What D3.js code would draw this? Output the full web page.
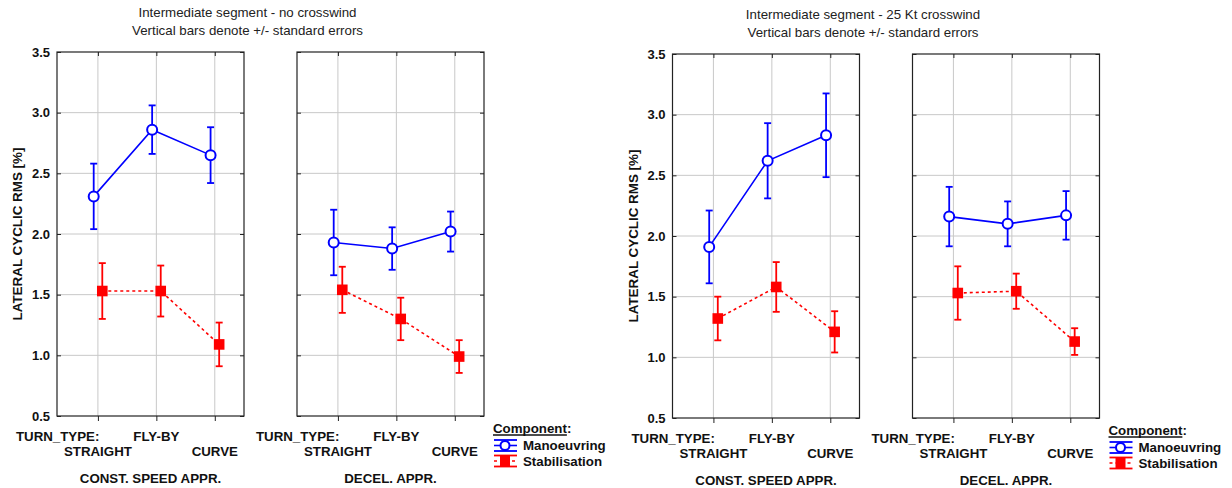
<!DOCTYPE html>
<html>
<head>
<meta charset="utf-8">
<script src="https://cdn.jsdelivr.net/npm/d3@7"></script>
<style>
  html, body { margin: 0; padding: 0; background: #fff; }
  svg { display: block; font-family: "Liberation Sans", Arial, sans-serif; }
</style>
</head>
<body>
<svg id="chart" width="1232" height="488"></svg>
<script>
// ---------- data ----------
const turnTypes = ["STRAIGHT", "FLY-BY", "CURVE"];
const approaches = ["CONST. SPEED APPR.", "DECEL. APPR."];
const yTickValues = [0.5, 1.0, 1.5, 2.0, 2.5, 3.0, 3.5];
const components = ["Manoeuvring", "Stabilisation"];
const factorLabel = "TURN_TYPE:";
const yAxisTitle = "LATERAL CYCLIC RMS [%]";
const legendTitle = "Component";

const titlesNoWind = ["Intermediate segment - no crosswind", "Vertical bars denote +/- standard errors"];
const titlesWind = ["Intermediate segment - 25 Kt crosswind", "Vertical bars denote +/- standard errors"];

// values: first 3 = CONST. SPEED APPR., last 3 = DECEL. APPR. (STRAIGHT, FLY-BY, CURVE)
const manoeuvringNoWind   = [2.31, 2.86, 2.65, 1.93, 1.88, 2.02];
const manoeuvringNoWindSE = [0.27, 0.20, 0.23, 0.27, 0.175, 0.165];
const stabilisationNoWind   = [1.53, 1.53, 1.09, 1.54, 1.30, 0.99];
const stabilisationNoWindSE = [0.23, 0.21, 0.18, 0.19, 0.175, 0.135];

const manoeuvringWind   = [1.91, 2.62, 2.83, 2.16, 2.10, 2.17];
const manoeuvringWindSE = [0.30, 0.31, 0.345, 0.245, 0.185, 0.20];
const stabilisationWind   = [1.32, 1.58, 1.21, 1.53, 1.545, 1.13];
const stabilisationWindSE = [0.18, 0.205, 0.17, 0.22, 0.145, 0.11];

// ---------- layout ----------
const BLUE = "#0000ff", RED = "#ff0000", GRID = "#c8c8c8";
const panelW = 187, panelH = 364, panelGap = 53;
const FS = "13.3px";

const svg = d3.select("#chart");

function drawChart(ox, oy, titles, manMean, manSE, stabMean, stabSE) {
  const g = svg.append("g").attr("transform", `translate(${ox},${oy})`);
  const y = d3.scaleLinear().domain([0.5, 3.5]).range([panelH, 0]);
  const x = d3.scaleLinear().domain([0.3, 3.5]).range([0, panelW]);

  // titles
  titles.forEach((t, i) => {
    g.append("text").attr("x", 190.5).attr("y", -35 + i * 18)
      .attr("text-anchor", "middle").attr("font-size", FS).attr("fill", "#222").text(t);
  });

  // y-axis title
  g.append("text")
    .attr("transform", `translate(-35,${panelH / 2}) rotate(-90)`)
    .attr("text-anchor", "middle").attr("font-size", "13.4px").attr("font-weight", "bold")
    .attr("fill", "#111").text(yAxisTitle);

  approaches.forEach((ap, p) => {
    const pg = g.append("g").attr("transform", `translate(${p * (panelW + panelGap)},0)`);

    // grid
    pg.append("g").selectAll("line.hg").data(yTickValues.slice(1, -1)).join("line")
      .attr("x1", 0).attr("x2", panelW).attr("y1", d => y(d)).attr("y2", d => y(d))
      .attr("stroke", GRID).attr("stroke-width", 1);
    pg.append("g").selectAll("line.vg").data([1, 2, 3]).join("line")
      .attr("x1", d => x(d)).attr("x2", d => x(d)).attr("y1", 0).attr("y2", panelH)
      .attr("stroke", GRID).attr("stroke-width", 1);

    // axes (ticks)
    const left = d3.axisLeft(y).tickValues(yTickValues).tickSizeInner(-4).tickSizeOuter(0)
      .tickPadding(7).tickFormat(p === 0 ? d3.format(".1f") : () => "");
    const la = pg.append("g").call(left);
    la.selectAll("text").attr("font-size", "13px").attr("font-weight", "bold")
      .attr("font-family", "Liberation Sans, Arial, sans-serif").attr("fill", "#111");
    const right = d3.axisRight(y).tickValues(yTickValues).tickSizeInner(-4).tickSizeOuter(0).tickFormat(() => "");
    pg.append("g").attr("transform", `translate(${panelW},0)`).call(right);
    const top = d3.axisTop(x).tickValues([1, 2, 3]).tickSizeInner(-4).tickSizeOuter(0).tickFormat(() => "");
    pg.append("g").call(top);
    const bottom = d3.axisBottom(x).tickValues([1, 2, 3]).tickSizeInner(5).tickSizeOuter(0).tickFormat(() => "");
    pg.append("g").attr("transform", `translate(0,${panelH})`).call(bottom);
    pg.selectAll(".domain").remove();
    pg.selectAll(".tick line").attr("stroke", "#222");

    // frame
    pg.append("rect").attr("x", 0).attr("y", 0).attr("width", panelW).attr("height", panelH)
      .attr("fill", "none").attr("stroke", "#222").attr("stroke-width", 1.2);

    // x labels
    const ly = panelH + 25, ly2 = panelH + 40;
    pg.append("text").attr("x", x(1) + 1.5).attr("y", ly).attr("text-anchor", "end")
      .attr("font-size", FS).attr("font-weight", "bold").attr("fill", "#111").text(factorLabel);
    turnTypes.forEach((tt, i) => {
      pg.append("text").attr("x", x(i + 1)).attr("y", i % 2 === 1 ? ly : ly2)
        .attr("text-anchor", "middle").attr("font-size", FS).attr("font-weight", "bold")
        .attr("fill", "#111").text(tt);
    });
    pg.append("text").attr("x", panelW / 2).attr("y", panelH + 66.5).attr("text-anchor", "middle")
      .attr("font-size", FS).attr("font-weight", "bold").attr("fill", "#111").text(ap);

    // series
    const series = [
      { mean: manMean, se: manSE, color: BLUE, off: -0.072, dash: null, marker: "circle" },
      { mean: stabMean, se: stabSE, color: RED, off: 0.075, dash: "3,3", marker: "square" }
    ];
    series.forEach(s => {
      const pts = [0, 1, 2].map(i => ({ x: x(i + 1 + s.off), m: s.mean[p * 3 + i], e: s.se[p * 3 + i] }));
      pg.append("path").datum(pts)
        .attr("d", d3.line().x(d => d.x).y(d => y(d.m)))
        .attr("fill", "none").attr("stroke", s.color).attr("stroke-width", 1.6)
        .attr("stroke-dasharray", s.dash);
      const eb = pg.append("g").attr("stroke", s.color).attr("stroke-width", 1.8);
      eb.selectAll("line.v").data(pts).join("line")
        .attr("x1", d => d.x).attr("x2", d => d.x)
        .attr("y1", d => y(d.m - d.e)).attr("y2", d => y(d.m + d.e));
      eb.selectAll("line.t").data(pts).join("line")
        .attr("x1", d => d.x - 3.5).attr("x2", d => d.x + 3.5)
        .attr("y1", d => y(d.m + d.e)).attr("y2", d => y(d.m + d.e));
      eb.selectAll("line.b").data(pts).join("line")
        .attr("x1", d => d.x - 3.5).attr("x2", d => d.x + 3.5)
        .attr("y1", d => y(d.m - d.e)).attr("y2", d => y(d.m - d.e));
      if (s.marker === "circle") {
        pg.selectAll(null).data(pts).join("circle")
          .attr("cx", d => d.x).attr("cy", d => y(d.m)).attr("r", 5)
          .attr("fill", "#fff").attr("stroke", s.color).attr("stroke-width", 2);
      } else {
        pg.selectAll(null).data(pts).join("rect")
          .attr("x", d => d.x - 5.3).attr("y", d => y(d.m) - 5.3)
          .attr("width", 10.6).attr("height", 10.6).attr("fill", s.color);
      }
    });
  });

  // legend
  const lx = 2 * panelW + panelGap + 9;
  const lg = g.append("g").attr("transform", `translate(${lx},${panelH})`);
  const lt = lg.append("text").attr("x", 0).attr("y", 16.5).attr("font-size", FS)
    .attr("font-weight", "bold").attr("fill", "#111");
  lt.append("tspan").text(legendTitle);
  lt.append("tspan").text(":");
  // underline under the title word only
  const titleW = lt.select("tspan").node().getComputedTextLength();
  lg.append("line").attr("x1", 0).attr("x2", titleW).attr("y1", 19).attr("y2", 19)
    .attr("stroke", "#111").attr("stroke-width", 1.4);
  const legendItems = [
    { name: components[0], color: BLUE, marker: "circle", cy: 29.5, dash: null },
    { name: components[1], color: RED, marker: "square", cy: 45, dash: "3,3" }
  ];
  legendItems.forEach(it => {
    const li = lg.append("g");
    const w0 = 1, w1 = 24, cx = 12;
    li.append("line").attr("x1", w0).attr("x2", w1).attr("y1", it.cy).attr("y2", it.cy)
      .attr("stroke", it.color).attr("stroke-width", 1.6).attr("stroke-dasharray", it.dash);
    li.append("line").attr("x1", w0).attr("x2", w1).attr("y1", it.cy - 5.5).attr("y2", it.cy - 5.5)
      .attr("stroke", it.color).attr("stroke-width", 1.8);
    li.append("line").attr("x1", w0).attr("x2", w1).attr("y1", it.cy + 5.5).attr("y2", it.cy + 5.5)
      .attr("stroke", it.color).attr("stroke-width", 1.8);
    li.append("line").attr("x1", cx).attr("x2", cx).attr("y1", it.cy - 5.5).attr("y2", it.cy + 5.5)
      .attr("stroke", it.color).attr("stroke-width", 1.8);
    if (it.marker === "circle") {
      li.append("circle").attr("cx", cx).attr("cy", it.cy).attr("r", 4.5)
        .attr("fill", "#fff").attr("stroke", it.color).attr("stroke-width", 2);
    } else {
      li.append("rect").attr("x", cx - 5).attr("y", it.cy - 5.5).attr("width", 10).attr("height", 11)
        .attr("fill", it.color);
    }
    li.append("text").attr("x", 30).attr("y", it.cy + 4.5).attr("font-size", FS)
      .attr("font-weight", "bold").attr("fill", "#111").text(it.name);
  });
}

drawChart(57, 52, titlesNoWind, manoeuvringNoWind, manoeuvringNoWindSE, stabilisationNoWind, stabilisationNoWindSE);
drawChart(672.5, 54, titlesWind, manoeuvringWind, manoeuvringWindSE, stabilisationWind, stabilisationWindSE);
</script>
</body>
</html>
